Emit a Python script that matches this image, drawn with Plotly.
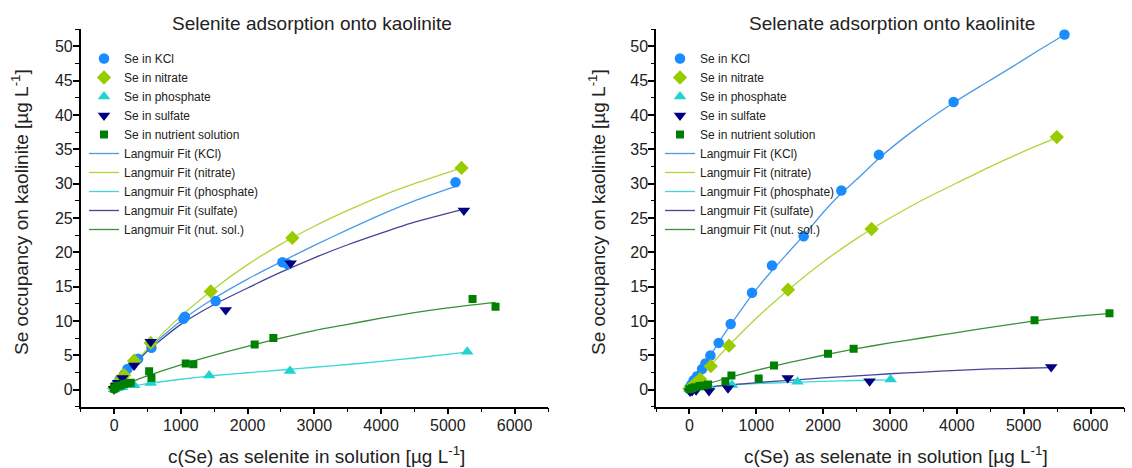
import plotly.graph_objects as go

# ---------------- Selenite (left panel) ----------------
ite_kcl_x = [5, 40, 80, 150, 200, 360, 560, 1039, 1060, 1522, 2521, 2600, 5115]
ite_kcl_y = [0.2, 0.8, 1.4, 2.2, 3.0, 4.5, 6.1, 10.3, 10.6, 12.9, 18.55, 18.3, 30.2]
ite_nit_x = [0, 40, 90, 150, 300, 549, 1448, 2670, 5205]
ite_nit_y = [0.2, 0.7, 1.3, 2.1, 4.2, 6.8, 14.3, 22.1, 32.3]
ite_pho_x = [0, 50, 120, 300, 549, 1424, 2635, 5290]
ite_pho_y = [0.05, 0.2, 0.35, 0.63, 0.97, 2.04, 2.7, 5.5]
ite_sul_x = [0, 30, 60, 125, 300, 549, 1672, 2645, 5240]
ite_sul_y = [0.1, 0.6, 1.0, 1.7, 3.5, 6.95, 11.6, 18.4, 26.1]
ite_nut_x = [0, 20, 50, 100, 150, 200, 250, 525, 560, 1073, 1188, 2106, 2386, 5370, 5714]
ite_nut_y = [0.1, 0.3, 0.5, 0.6, 0.8, 0.9, 0.98, 2.67, 1.7, 3.8, 3.7, 6.56, 7.53, 13.2, 12.05]

# Langmuir fit curves
ite_fit_kcl_x = [0, 250, 500, 1000, 1500, 2000, 2500, 3000, 3500, 4000, 4500, 5115]
ite_fit_kcl_y = [0, 3.0, 5.8, 10.0, 13.3, 16.1, 18.6, 21.0, 23.3, 25.5, 27.5, 29.6]
ite_fit_nit_x = [0, 250, 500, 1000, 1500, 2000, 2500, 3000, 3500, 4000, 4500, 5205]
ite_fit_nit_y = [0, 3.1, 5.9, 10.7, 14.7, 18.2, 21.2, 23.8, 26.1, 28.2, 30.0, 32.3]
ite_fit_pho_x = [0, 500, 1000, 1500, 2000, 2500, 3000, 3500, 4000, 4500, 5290]
ite_fit_pho_y = [0, 0.85, 1.5, 2.05, 2.45, 2.85, 3.25, 3.65, 4.1, 4.6, 5.45]
ite_fit_sul_x = [0, 250, 500, 1000, 1500, 2000, 2500, 3000, 3500, 4000, 4500, 5240]
ite_fit_sul_y = [0, 3.0, 5.6, 9.5, 12.4, 14.8, 17.1, 19.2, 21.1, 22.8, 24.4, 26.3]
ite_fit_nut_x = [0, 250, 500, 1000, 1500, 2000, 2500, 3000, 3500, 4000, 4500, 5000, 5714]
ite_fit_nut_y = [0, 1.1, 2.0, 3.6, 5.0, 6.3, 7.5, 8.6, 9.5, 10.4, 11.2, 11.9, 12.7]

# ---------------- Selenate (right panel) ----------------
ate_kcl_x = [0, 30, 64, 114, 189, 239, 314, 438, 617, 936, 1235, 1708, 2272, 2834, 3951, 5610]
ate_kcl_y = [0.25, 0.75, 1.35, 1.95, 3.0, 3.8, 4.96, 6.8, 9.55, 14.1, 18.08, 22.35, 29.0, 34.2, 41.9, 51.75]
ate_nit_x = [0, 40, 90, 160, 320, 592, 1474, 2725, 5495]
ate_nit_y = [0.1, 0.4, 0.9, 1.5, 3.4, 6.4, 14.56, 23.4, 36.8]
ate_pho_x = [0, 60, 150, 300, 637, 1616, 3009]
ate_pho_y = [0.05, 0.15, 0.25, 0.4, 0.65, 1.15, 1.46]
ate_sul_x = [10, 40, 100, 293, 577, 1470, 2695, 5411]
ate_sul_y = [-0.3, -0.2, -0.1, -0.2, 0.2, 1.7, 1.2, 3.3]
ate_nut_x = [0, 40, 80, 150, 210, 278, 538, 628, 1036, 1265, 2072, 2456, 5162, 6283]
ate_nut_y = [0.05, 0.2, 0.35, 0.5, 0.6, 0.73, 1.21, 2.04, 1.6, 3.5, 5.2, 5.93, 10.1, 11.13]

ate_fit_kcl_x = [0, 250, 500, 750, 1000, 1250, 1500, 1750, 2000, 2250, 2500, 2870, 3400, 3950, 4400, 4840, 5200, 5610]
ate_fit_kcl_y = [0, 4.0, 7.8, 11.3, 14.6, 17.5, 20.2, 22.9, 25.8, 28.4, 30.6, 34.0, 38.1, 41.8, 44.5, 47.1, 49.3, 51.7]
ate_fit_nit_x = [0, 250, 500, 1000, 1500, 2000, 2500, 3000, 3500, 4000, 4500, 5000, 5495]
ate_fit_nit_y = [0, 2.8, 5.5, 10.4, 14.7, 18.6, 22.0, 25.0, 27.7, 30.1, 32.5, 34.7, 36.7]
ate_fit_pho_x = [0, 250, 500, 1000, 1500, 2000, 2500, 3009]
ate_fit_pho_y = [0, 0.3, 0.55, 0.85, 1.05, 1.2, 1.32, 1.42]
ate_fit_sul_x = [0, 500, 1000, 1500, 2000, 2500, 3000, 3500, 4000, 4500, 5000, 5411]
ate_fit_sul_y = [0, 0.6, 1.0, 1.35, 1.7, 2.0, 2.3, 2.55, 2.8, 3.0, 3.1, 3.2]
ate_fit_nut_x = [0, 250, 500, 1000, 1500, 2000, 2500, 3000, 3500, 4000, 4500, 5162, 5700, 6283]
ate_fit_nut_y = [0, 0.75, 1.5, 2.8, 3.95, 5.0, 5.95, 6.8, 7.55, 8.3, 9.05, 10.0, 10.6, 11.1]

series_names = ["Se in KCl", "Se in nitrate", "Se in phosphate", "Se in sulfate", "Se in nutrient solution"]
fit_names = ["Langmuir Fit (KCl)", "Langmuir Fit (nitrate)", "Langmuir Fit (phosphate)",
             "Langmuir Fit (sulfate)", "Langmuir Fit (nut. sol.)"]
marker_colors = ["#1a8cff", "#99cc00", "#1fd3d3", "#000080", "#008000"]
line_colors = ["#4a9be6", "#afd63c", "#3fd8d8", "#45459a", "#3a8f3a"]
symbols = ["circle", "diamond", "triangle-up", "triangle-down", "square"]
sizes = [10.5, 11, 11, 11, 8]

FONT = "Arial, Liberation Sans, sans-serif"

panels = [
    dict(xa="x", ya="y", leg="legend",
         pts=[(ite_kcl_x, ite_kcl_y), (ite_nit_x, ite_nit_y), (ite_pho_x, ite_pho_y),
              (ite_sul_x, ite_sul_y), (ite_nut_x, ite_nut_y)],
         fits=[(ite_fit_kcl_x, ite_fit_kcl_y), (ite_fit_nit_x, ite_fit_nit_y),
               (ite_fit_pho_x, ite_fit_pho_y), (ite_fit_sul_x, ite_fit_sul_y),
               (ite_fit_nut_x, ite_fit_nut_y)]),
    dict(xa="x2", ya="y2", leg="legend2",
         pts=[(ate_kcl_x, ate_kcl_y), (ate_nit_x, ate_nit_y), (ate_pho_x, ate_pho_y),
              (ate_sul_x, ate_sul_y), (ate_nut_x, ate_nut_y)],
         fits=[(ate_fit_kcl_x, ate_fit_kcl_y), (ate_fit_nit_x, ate_fit_nit_y),
               (ate_fit_pho_x, ate_fit_pho_y), (ate_fit_sul_x, ate_fit_sul_y),
               (ate_fit_nut_x, ate_fit_nut_y)]),
]

fig = go.Figure()
for p in panels:
    for i, (fx, fy) in enumerate(p["fits"]):
        fig.add_trace(go.Scatter(x=fx, y=fy, mode="lines", name=fit_names[i],
                                 line=dict(color=line_colors[i], width=1.3, shape="spline", smoothing=0.6),
                                 xaxis=p["xa"], yaxis=p["ya"], legend=p["leg"], legendrank=10 + i,
                                 hoverinfo="skip"))
    for i, (px, py) in enumerate(p["pts"]):
        fig.add_trace(go.Scatter(x=px, y=py, mode="markers", name=series_names[i],
                                 marker=dict(symbol=symbols[i], size=sizes[i], color=marker_colors[i],
                                             line=dict(width=0)),
                                 xaxis=p["xa"], yaxis=p["ya"], legend=p["leg"], legendrank=1 + i))

W, H = 1132, 468
xdom1 = [80.7 / W, 548 / W]
xdom2 = [656 / W, 1124 / W]
ydom = [1 - 406.7 / H, 1 - 29.3 / H]

axis_common = dict(showline=True, linecolor="black", linewidth=1.5, ticks="outside",
                   ticklen=6, tickwidth=1.5, tickcolor="black", showgrid=False, zeroline=False,
                   tickfont=dict(family=FONT, size=16, color="#222222"), automargin=False,
                   ticklabelstandoff=-3)
xcommon = dict(axis_common, range=[-500, 6500], dtick=1000, tick0=0,
               minor=dict(dtick=500, ticklen=3.5, tickwidth=1.2, tickcolor="black", ticks="outside"))
ycommon = dict(axis_common, range=[-2.5, 52.5], dtick=5, tick0=0,
               minor=dict(dtick=2.5, ticklen=3.5, tickwidth=1.2, tickcolor="black", ticks="outside"))

legend_common = dict(font=dict(family=FONT, size=12, color="#222222"), bgcolor="rgba(255,255,255,0)",
                     xanchor="left", yanchor="top", tracegroupgap=0, itemwidth=30)

fig.update_layout(
    width=W, height=H, autosize=False,
    margin=dict(l=0, r=0, t=0, b=0),
    paper_bgcolor="white", plot_bgcolor="white",
    font=dict(family=FONT, color="#222222"),
    xaxis=dict(xcommon, domain=xdom1, anchor="y"),
    yaxis=dict(ycommon, domain=ydom, anchor="x"),
    xaxis2=dict(xcommon, domain=xdom2, anchor="y2"),
    yaxis2=dict(ycommon, domain=ydom, anchor="x2"),
    legend=dict(legend_common, x=84 / W, y=1 - 44 / H),
    legend2=dict(legend_common, x=660 / W, y=1 - 44 / H),
    showlegend=True,
)

ann_font = dict(family=FONT, size=19, color="#222222")
annotations = [
    dict(text="Selenite adsorption onto kaolinite", x=312 / W, y=1 - 23 / H),
    dict(text="Selenate adsorption onto kaolinite", x=892 / W, y=1 - 23 / H),
    dict(text="c(Se) as selenite in solution [µg L<sup>-1</sup>]", x=316 / W, y=1 - 455 / H),
    dict(text="c(Se) as selenate in solution [µg L<sup>-1</sup>]", x=896 / W, y=1 - 455 / H),
    dict(text="Se occupancy on kaolinite [µg L<sup>-1</sup>]", x=20 / W, y=1 - 212 / H, textangle=-90),
    dict(text="Se occupancy on kaolinite [µg L<sup>-1</sup>]", x=597 / W, y=1 - 212 / H, textangle=-90),
]
for a in annotations:
    fig.add_annotation(xref="paper", yref="paper", showarrow=False, xanchor="center", yanchor="middle",
                       font=ann_font, **a)

fig.write_html("out.html", config={"displayModeBar": False},
               post_script="document.body.style.margin='0';document.body.style.padding='0';")
